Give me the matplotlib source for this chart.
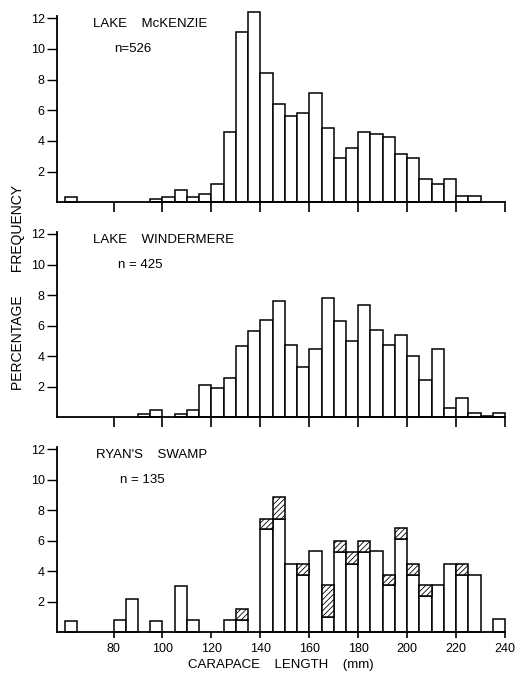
import matplotlib
matplotlib.use("Agg")
import matplotlib.pyplot as plt
import numpy as np

plt.rcParams['font.family'] = ['Liberation Sans', 'DejaVu Sans']
plt.rcParams['hatch.linewidth'] = 0.6

bin_starts = list(range(60, 240, 5))

mckenzie = [0.33, 0, 0, 0, 0, 0, 0, 0.2, 0.37, 0.78, 0.35, 0.54, 1.17, 4.57, 11.09, 12.43,
            8.43, 6.39, 5.63, 5.85, 7.13, 4.85, 2.87, 3.54, 4.57, 4.43, 4.24, 3.13, 2.87,
            1.52, 1.2, 1.5, 0.43, 0.39, 0, 0]
windermere = [0, 0, 0, 0, 0, 0, 0.2, 0.48, 0, 0.2, 0.5, 2.09, 1.89, 2.54, 4.65, 5.65,
              6.37, 7.6, 4.74, 3.28, 4.46, 7.8, 6.28, 5.02, 7.33, 5.7, 4.72, 5.41, 4.02,
              2.46, 4.5, 0.59, 1.26, 0.3, 0.1, 0.26]
ryan_open = [0.72, 0, 0, 0, 0.77, 2.17, 0, 0.72, 0, 3.02, 0.77, 0, 0, 0.77, 0.77, 0,
             6.74, 7.44, 4.46, 3.76, 5.29, 0.96, 5.25, 4.5, 5.25, 5.29, 3.06, 6.08, 3.76,
             2.39, 3.06, 4.46, 3.76, 3.76, 0, 0.83]
ryan_hatched = [0, 0, 0, 0, 0, 0, 0, 0, 0, 0, 0, 0, 0, 0, 0.72, 0,
                0.7, 1.4, 0, 0.7, 0, 2.1, 0.7, 0.75, 0.7, 0, 0.7, 0.72, 0.7,
                0.67, 0, 0, 0.7, 0, 0, 0]

panels = [
    ("LAKE    McKENZIE", "n=526", mckenzie, None, (71.5, 11.6), (80.3, 10.0)),
    ("LAKE    WINDERMERE", "n = 425", windermere, None, (71.5, 11.6), (81.9, 10.0)),
    ("RYAN'S    SWAMP", "n = 135", ryan_open, ryan_hatched, (72.8, 11.6), (82.7, 10.0)),
]

W, H = 523, 677
fig = plt.figure(figsize=(W / 100, H / 100), dpi=100)
rects = [
    (57.3, 9.1, 505, 202.3),
    (57.3, 224.8, 505, 417.3),
    (57.3, 440.2, 505, 632.0),
]
xticks = [80, 100, 120, 140, 160, 180, 200, 220, 240]
yticks = [2, 4, 6, 8, 10, 12]

for i, ((x0, y0, x1, y1), (title, ntext, vals, hatched, tpos, npos)) in enumerate(zip(rects, panels)):
    ax = fig.add_axes([x0 / W, 1 - y1 / H, (x1 - x0) / W, (y1 - y0) / H])
    xs = [b for b, v in zip(bin_starts, vals) if v > 0]
    hs = [v for v in vals if v > 0]
    ax.bar(xs, hs, width=5, align='edge', color='white', edgecolor='black',
           linewidth=1.1, clip_on=False, zorder=2)
    if hatched is not None:
        hx = [b for b, v in zip(bin_starts, hatched) if v > 0]
        hb = [o for o, v in zip(vals, hatched) if v > 0]
        hh = [v for v in hatched if v > 0]
        ax.bar(hx, hh, bottom=hb, width=5, align='edge', color='white',
               edgecolor='black', hatch='//////', linewidth=1.1, clip_on=False, zorder=3)
    ax.set_xlim(57, 240)
    ax.set_ylim(0, 12.6)
    for s in ['top', 'right']:
        ax.spines[s].set_visible(False)
    ax.spines['left'].set_bounds(0, 12.15)
    ax.spines['left'].set_linewidth(1.3)
    ax.spines['bottom'].set_linewidth(1.3)
    ax.set_xticks(xticks)
    ax.set_yticks(yticks)
    ax.set_yticklabels([str(t) for t in yticks], fontsize=9)
    ax.tick_params(axis='y', direction='out', length=7, width=1, pad=2)
    if i < 2:
        ax.tick_params(axis='x', direction='out', length=7, width=1.2, labelbottom=False)
    else:
        ax.tick_params(axis='x', direction='out', length=4, width=1.2, labelsize=9, pad=4)
        ax.set_xlabel("CARAPACE    LENGTH    (mm)", fontsize=9.5, labelpad=3)
    ax.text(tpos[0], tpos[1], title, fontsize=9.5, ha='left', va='center')
    ax.text(npos[0], npos[1], ntext, fontsize=9.5, ha='left', va='center')
    ax.patch.set_alpha(0)

fig.text(18 / W, 1 - 288 / H, "PERCENTAGE      FREQUENCY", rotation=90,
         ha='center', va='center', fontsize=10)

fig.savefig("out.png", dpi=100)
